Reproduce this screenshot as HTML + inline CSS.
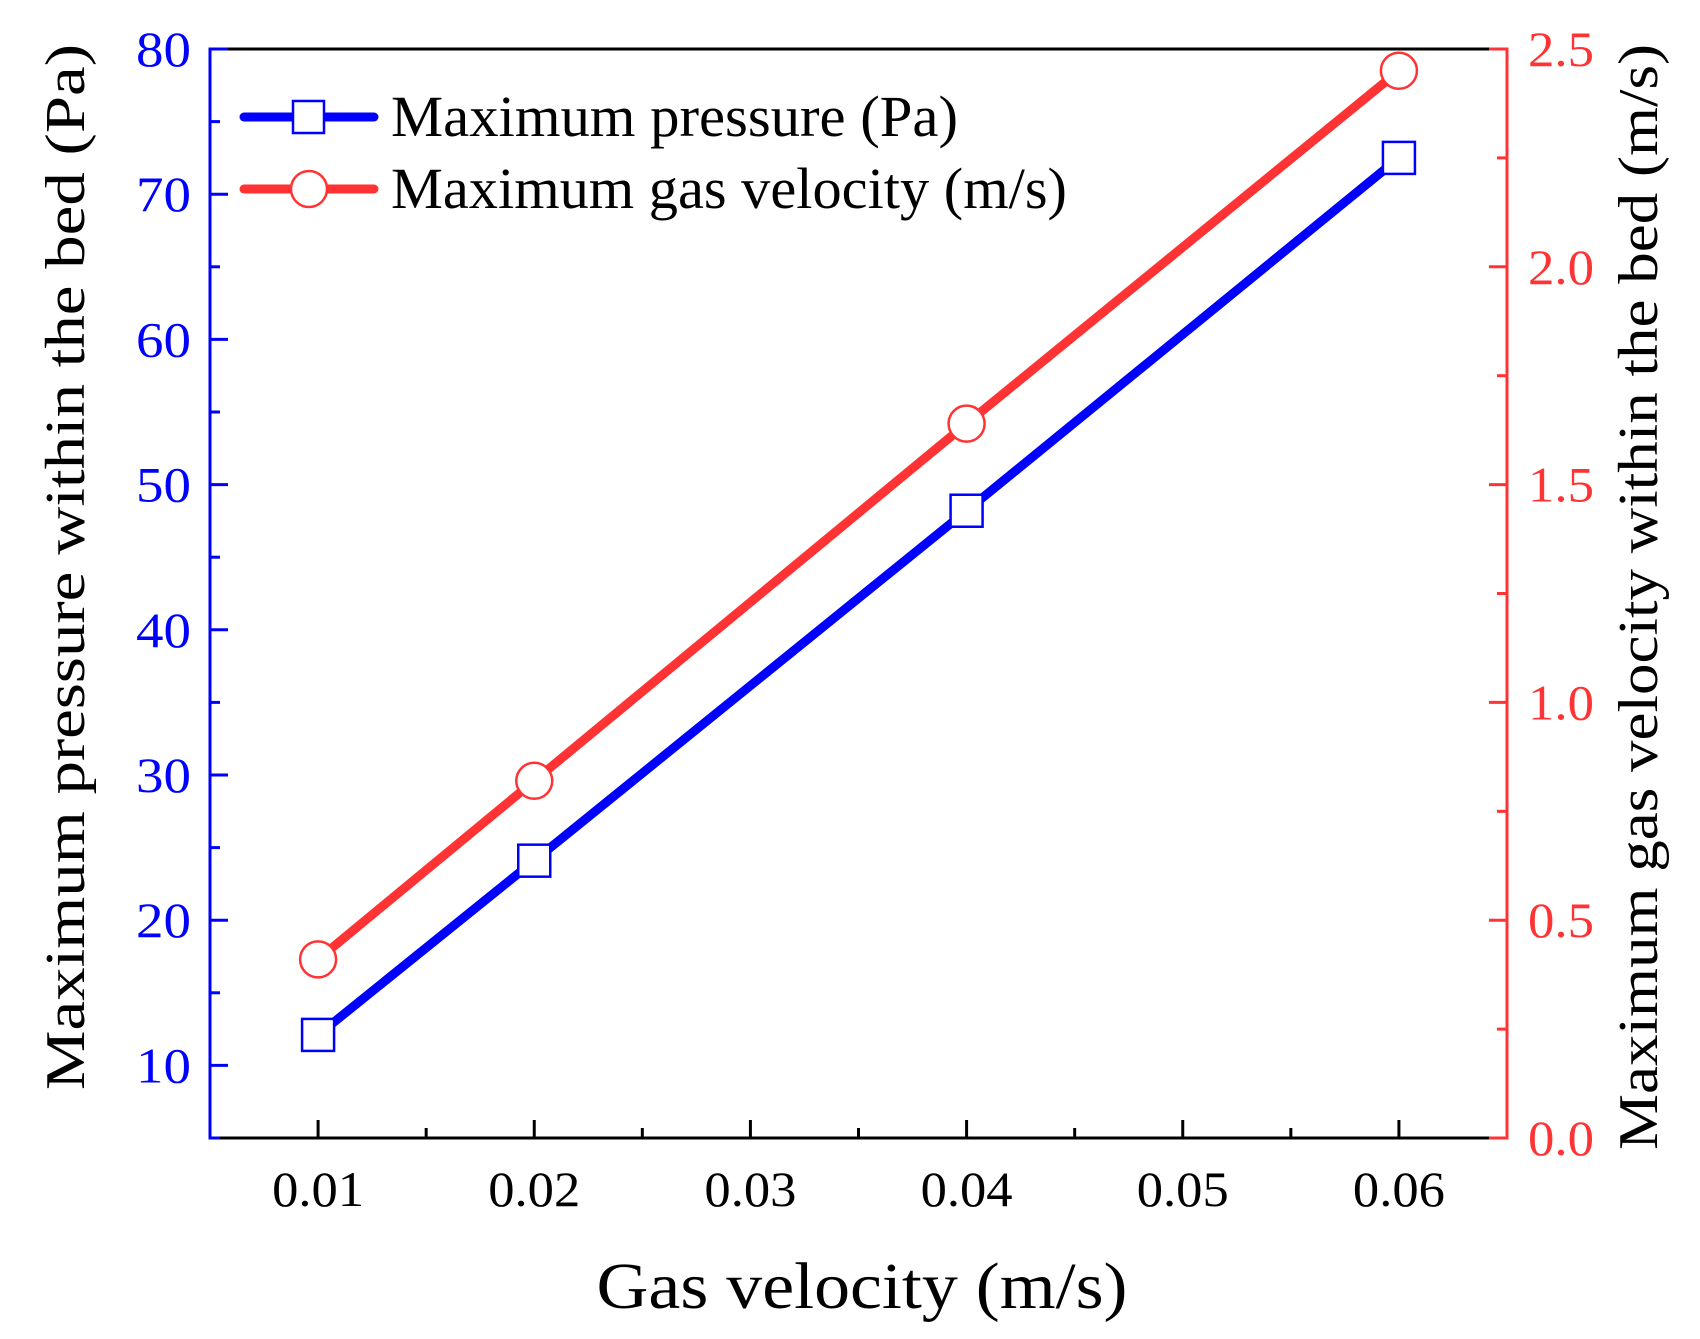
<!DOCTYPE html>
<html><head><meta charset="utf-8"><style>
html,body{margin:0;padding:0;background:#fff}
svg{display:block;font-family:"Liberation Serif","Times New Roman",serif}
</style></head><body>
<svg id="chart" width="1700" height="1339" viewBox="0 0 1700 1339" xmlns="http://www.w3.org/2000/svg"></svg>
<script>
const categories = [0.01, 0.02, 0.04, 0.06];
const pressureValues = [12.1, 24.1, 48.2, 72.5];
const velocityValues = [0.41, 0.82, 1.64, 2.45];
const xTickLabels = ["0.01","0.02","0.03","0.04","0.05","0.06"];
const leftTickLabels = ["10","20","30","40","50","60","70","80"];
const rightTickLabels = ["0.0","0.5","1.0","1.5","2.0","2.5"];

const L=210,R=1507,T=49,B=1138;
const xmin=0.005,xmax=0.065, y1min=5,y1max=80, y2min=0,y2max=2.5;
const sx=v=>L+(v-xmin)/(xmax-xmin)*(R-L);
const sy1=v=>B-(v-y1min)/(y1max-y1min)*(B-T);
const sy2=v=>B-(v-y2min)/(y2max-y2min)*(B-T);
const svg=document.getElementById('chart');
const NS='http://www.w3.org/2000/svg';
function mk(tag,attrs,parent){const e=document.createElementNS(NS,tag);for(const k in attrs)e.setAttribute(k,attrs[k]);(parent||svg).appendChild(e);return e;}

let e;
e=mk('line',{x1:L,y1:T,x2:R,y2:T,stroke:'#000','stroke-width':3});


e=mk('line',{x1:L,y1:B,x2:R,y2:B,stroke:'#000','stroke-width':3});


e=mk('line',{x1:L,y1:T-1.5,x2:L,y2:B+1.5,stroke:'#00f','stroke-width':3});


e=mk('line',{x1:R,y1:T-1.5,x2:R,y2:B+1.5,stroke:'#f33','stroke-width':3});



xTickLabels.forEach(lbl=>{
  const v=parseFloat(lbl), x=sx(v);
  e=mk('line',{x1:x,y1:B,x2:x,y2:B-18,stroke:'#000','stroke-width':3});
  
  
  const xm=sx(v+0.005);
  if(v+0.005<xmax){e=mk('line',{x1:xm,y1:B,x2:xm,y2:B-10,stroke:'#000','stroke-width':3});
  
  }
  e=mk('text',{x:x,y:1206,'text-anchor':'middle','font-size':50,fill:'#000',textLength:92,lengthAdjust:'spacingAndGlyphs'});
  e.textContent=lbl;
  
  
});
leftTickLabels.forEach(lbl=>{
  const v=parseFloat(lbl), y=sy1(v);
  e=mk('line',{x1:L,y1:y,x2:L+18,y2:y,stroke:'#00f','stroke-width':3});
  
  
  const ym=sy1(v-5);
  e=mk('line',{x1:L,y1:ym,x2:L+10,y2:ym,stroke:'#00f','stroke-width':3});
  
  
  e=mk('text',{x:191,y:y+17,'text-anchor':'end','font-size':50,fill:'#00f',textLength:55,lengthAdjust:'spacingAndGlyphs'});
  e.textContent=lbl;
  
  
});
rightTickLabels.forEach(lbl=>{
  const v=parseFloat(lbl), y=sy2(v);
  e=mk('line',{x1:R,y1:y,x2:R-18,y2:y,stroke:'#f33','stroke-width':3});
  
  
  if(v+0.25<y2max){const ym=sy2(v+0.25);
  e=mk('line',{x1:R,y1:ym,x2:R-10,y2:ym,stroke:'#f33','stroke-width':3});
  
  }
  e=mk('text',{x:1528,y:y+17,'text-anchor':'start','font-size':50,fill:'#f33',textLength:66,lengthAdjust:'spacingAndGlyphs'});
  e.textContent=lbl;
  
  
});

e=mk('polyline',{points:categories.map((c,i)=>sx(c)+','+sy2(velocityValues[i])).join(' '),fill:'none',stroke:'#f33','stroke-width':9,'stroke-linejoin':'round'});


e=mk('polyline',{points:categories.map((c,i)=>sx(c)+','+sy1(pressureValues[i])).join(' '),fill:'none',stroke:'#00f','stroke-width':9,'stroke-linejoin':'round'});


categories.forEach((c,i)=>{
  e=mk('circle',{cx:sx(c),cy:sy2(velocityValues[i]),r:18,fill:'#fff',stroke:'#f33','stroke-width':2.5});
  
  
  e=mk('rect',{x:sx(c)-16,y:sy1(pressureValues[i])-16,width:32,height:32,fill:'#fff',stroke:'#00f','stroke-width':2.5});
  
  
});

const lg=mk('g',{});


e=mk('line',{x1:244,y1:117,x2:374,y2:117,stroke:'#00f','stroke-width':9,'stroke-linecap':'round'},lg);


e=mk('rect',{x:293,y:101,width:31,height:32,fill:'#fff',stroke:'#00f','stroke-width':2.5},lg);


e=mk('text',{x:391,y:136,'font-size':58,fill:'#000',textLength:567,lengthAdjust:'spacingAndGlyphs'},lg);
e.textContent='Maximum pressure (Pa)';


e=mk('line',{x1:244,y1:189,x2:374,y2:189,stroke:'#f33','stroke-width':9,'stroke-linecap':'round'},lg);


e=mk('circle',{cx:309,cy:189,r:18,fill:'#fff',stroke:'#f33','stroke-width':2.5},lg);


e=mk('text',{x:391,y:208,'font-size':58,fill:'#000',textLength:676,lengthAdjust:'spacingAndGlyphs'},lg);
e.textContent='Maximum gas velocity (m/s)';



e=mk('text',{x:862,y:1308,'text-anchor':'middle','font-size':66,fill:'#000',textLength:531,lengthAdjust:'spacingAndGlyphs'});
e.textContent='Gas velocity (m/s)';


e=mk('text',{x:0,y:0,'text-anchor':'middle','font-size':56,fill:'#000',textLength:1046,lengthAdjust:'spacingAndGlyphs',transform:'translate(84,567) rotate(-90)'});
e.textContent='Maximum pressure within the bed (Pa)';


e=mk('text',{x:0,y:0,'text-anchor':'middle','font-size':56,fill:'#000',textLength:1106,lengthAdjust:'spacingAndGlyphs',transform:'translate(1657,597) rotate(-90)'});
e.textContent='Maximum gas velocity within the bed (m/s)';


</script>
</body></html>
